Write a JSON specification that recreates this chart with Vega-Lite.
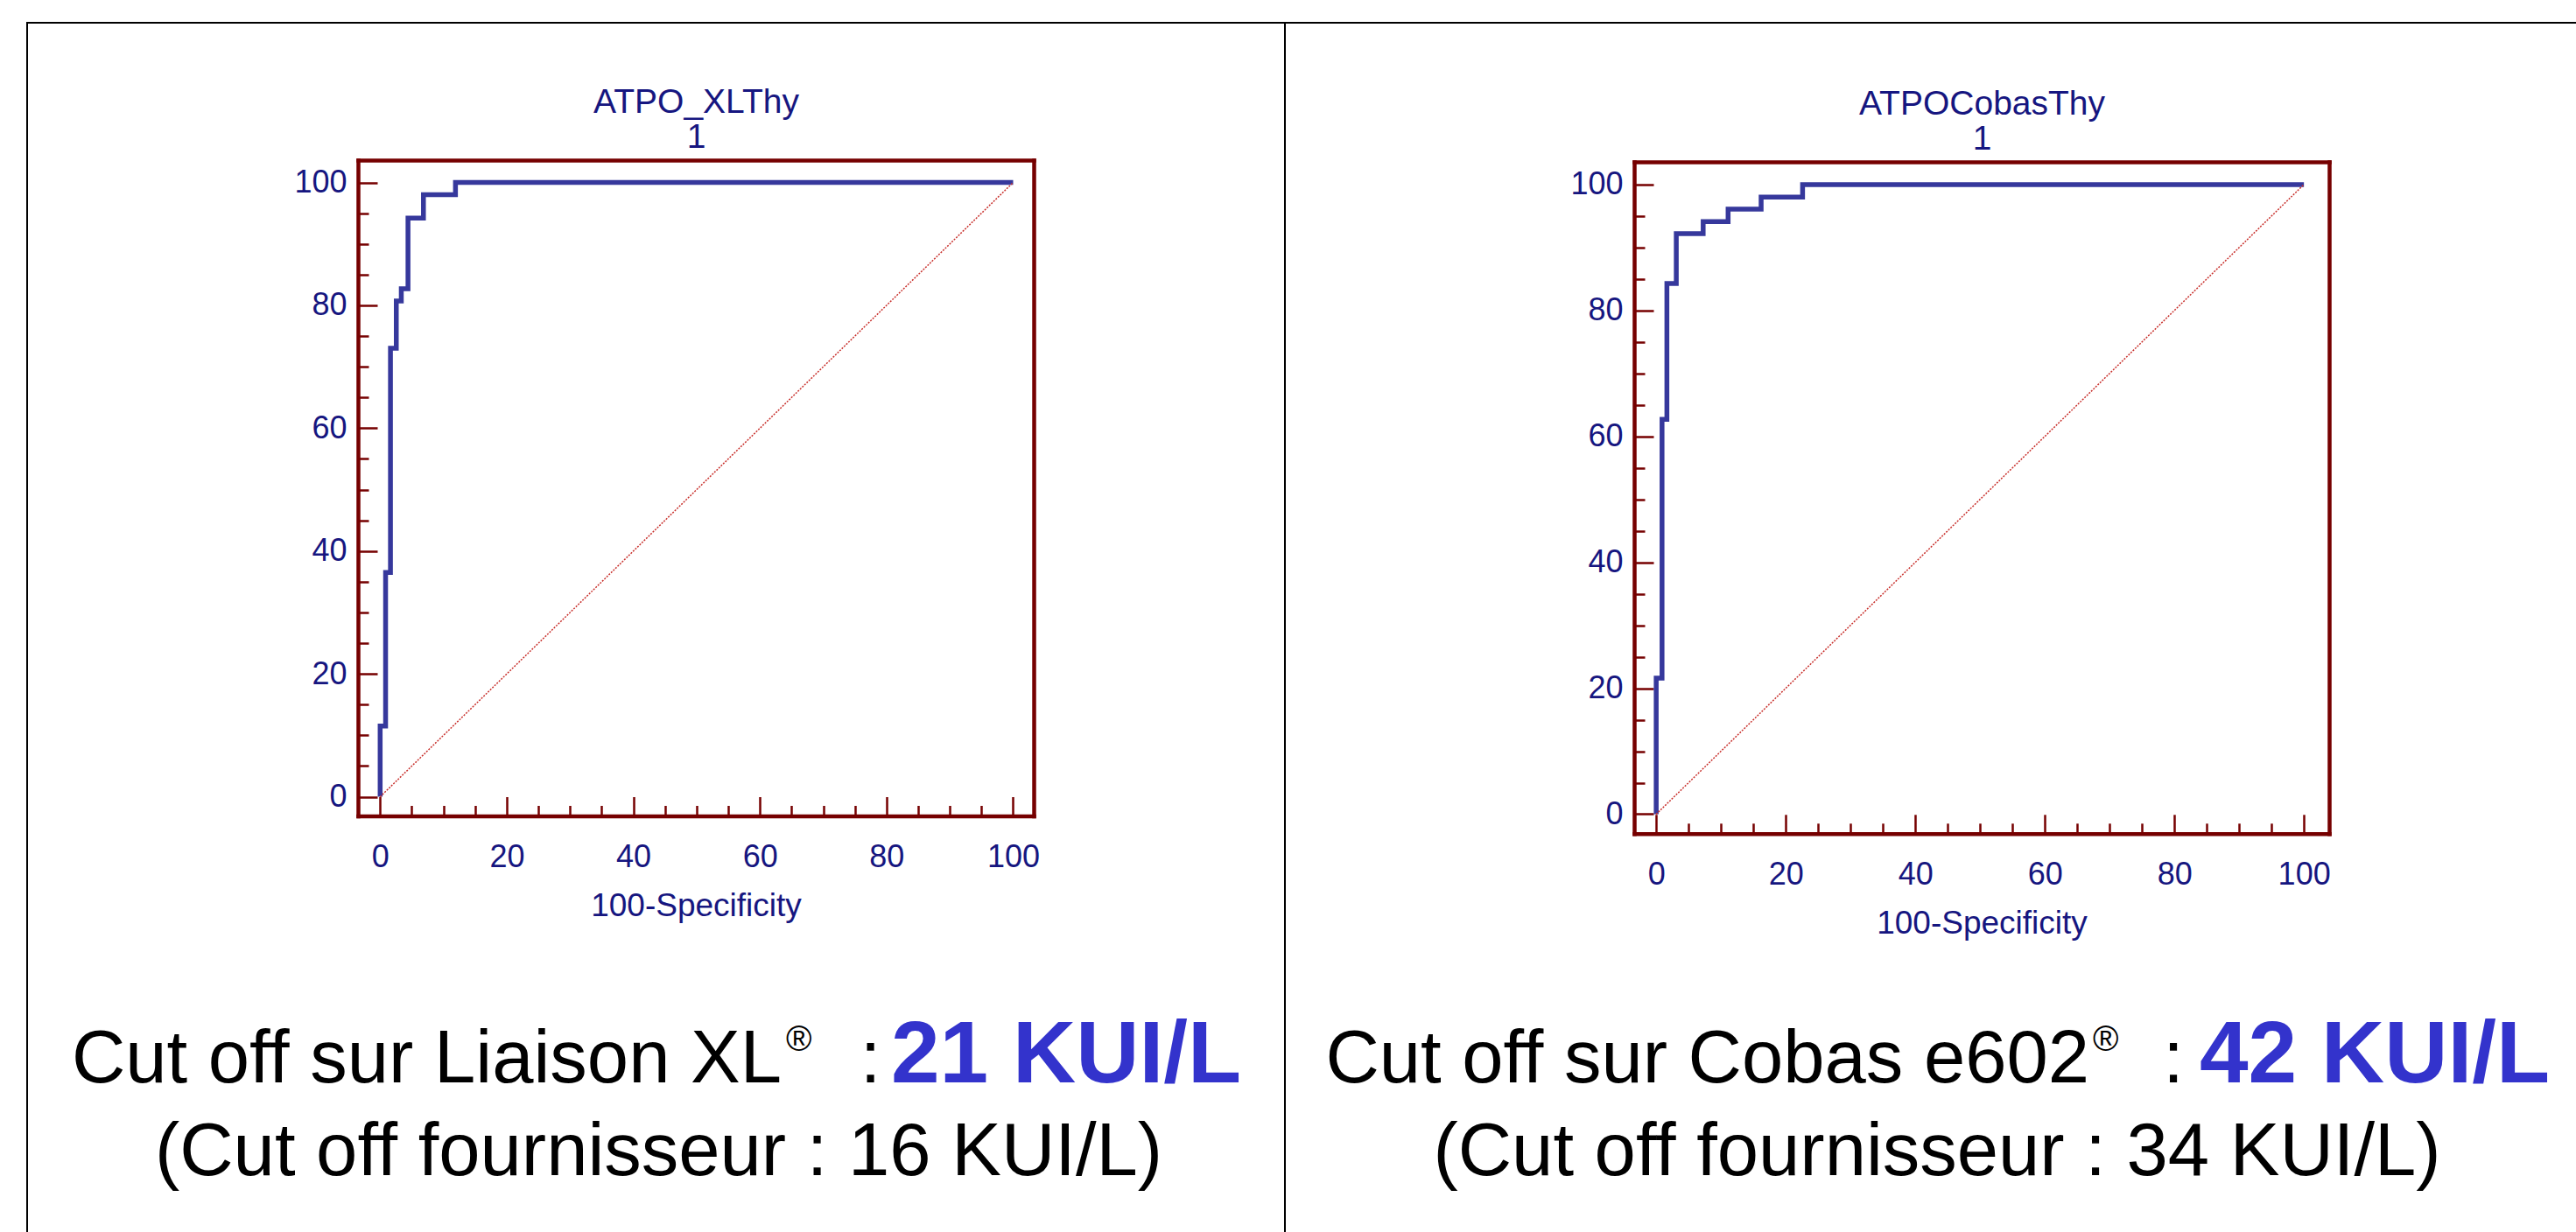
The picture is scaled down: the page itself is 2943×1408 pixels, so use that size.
{
  "$schema": "https://vega.github.io/schema/vega-lite/v6.json",
  "background": "white",
  "padding": {"left": 30, "top": 25, "right": 0, "bottom": 0},
  "bounds": "flush",
  "spacing": 0,
  "hconcat": [
    {
      "width": 1437,
      "height": 1400,
      "layer": [
        {
          "data": {"values": [
            {"fpr": 0, "sens": 0},
            {"fpr": 0, "sens": 11.5},
            {"fpr": 0.86, "sens": 36.5},
            {"fpr": 1.63, "sens": 73.0},
            {"fpr": 2.55, "sens": 80.7},
            {"fpr": 3.34, "sens": 82.7},
            {"fpr": 4.4, "sens": 94.2},
            {"fpr": 6.84, "sens": 98.0},
            {"fpr": 11.9, "sens": 100},
            {"fpr": 100, "sens": 100}
          ]},
          "mark": {"type": "line", "interpolate": "step-after", "color": "#36389c", "strokeWidth": 5.5},
          "encoding": {
            "x": {"field": "fpr", "type": "quantitative",
              "scale": {"domain": [-3.5, 103.25], "range": [378, 1150], "nice": false, "zero": false},
              "axis": {"orient": "bottom", "offset": -493.5,
                "values": [0,5,10,15,20,25,30,35,40,45,50,55,60,65,70,75,80,85,90,95,100],
                "labelExpr": "datum.value % 20 === 0 ? datum.label : ''",
                "tickSize": {"condition": {"test": "datum.value % 20 === 0", "value": -22}, "value": -12},
                "labelPadding": 52, "title": "100-Specificity", "titlePadding": 10}},
            "y": {"field": "sens", "type": "quantitative",
              "scale": {"domain": [-3.12, 103.64], "range": [906.5, 157], "nice": false, "zero": false},
              "axis": {"orient": "left", "offset": -378,
                "values": [0,5,10,15,20,25,30,35,40,45,50,55,60,65,70,75,80,85,90,95,100],
                "labelExpr": "datum.value % 20 === 0 ? datum.label : ''",
                "tickSize": {"condition": {"test": "datum.value % 20 === 0", "value": -22}, "value": -12},
                "labelPadding": 35, "title": null}}
          }
        },
        {
          "data": {"values": [{"x": 0, "y": 0}, {"x": 100, "y": 100}]},
          "mark": {"type": "line", "color": "#c8302c", "strokeWidth": 1.5, "strokeDash": [2, 1.5]},
          "encoding": {
            "x": {"field": "x", "type": "quantitative",
              "scale": {"domain": [-3.5, 103.25], "range": [378, 1150], "nice": false, "zero": false},
              "axis": {"orient": "top", "offset": -157, "ticks": false, "labels": false,
                "title": ["ATPO_XLThy", "1"], "titlePadding": 7, "titleFontSize": 39, "titleLineHeight": 40}},
            "y": {"field": "y", "type": "quantitative",
              "scale": {"domain": [-3.12, 103.64], "range": [906.5, 157], "nice": false, "zero": false},
              "axis": {"orient": "right", "offset": -287, "ticks": false, "labels": false, "title": null}}
          }
        },
        {
          "data": {"values": [{"line": 1, "text": "Cut off sur Liaison XL"}]},
          "mark": {"type": "text", "align": "right", "baseline": "alphabetic", "dx": 143.5, "font": "Liberation Sans", "fontSize": 85, "color": "#000000"},
          "encoding": {
            "y": {"field": "line", "type": "quantitative", "scale": {"domain": [1, 2], "range": [1211, 1317], "nice": false, "zero": false}, "axis": null},
            "text": {"field": "text"}
          }
        },
        {
          "data": {"values": [{"line": 1, "text": "®"}]},
          "mark": {"type": "text", "align": "left", "baseline": "alphabetic", "dx": 148.5, "dy": -36, "font": "Liberation Sans", "fontSize": 40, "color": "#000000"},
          "encoding": {
            "y": {"field": "line", "type": "quantitative", "scale": {"domain": [1, 2], "range": [1211, 1317], "nice": false, "zero": false}, "axis": null},
            "text": {"field": "text"}
          }
        },
        {
          "data": {"values": [{"line": 1, "text": ":"}]},
          "mark": {"type": "text", "align": "center", "baseline": "alphabetic", "dx": 245, "font": "Liberation Sans", "fontSize": 85, "color": "#000000"},
          "encoding": {
            "y": {"field": "line", "type": "quantitative", "scale": {"domain": [1, 2], "range": [1211, 1317], "nice": false, "zero": false}, "axis": null},
            "text": {"field": "text"}
          }
        },
        {
          "data": {"values": [{"line": 1, "text": "21 KUI/L"}]},
          "mark": {"type": "text", "align": "left", "baseline": "alphabetic", "dx": 268.5, "font": "Liberation Sans", "fontSize": 100, "fontWeight": "bold", "color": "#3333cc"},
          "encoding": {
            "y": {"field": "line", "type": "quantitative", "scale": {"domain": [1, 2], "range": [1211, 1317], "nice": false, "zero": false}, "axis": null},
            "text": {"field": "text"}
          }
        },
        {
          "data": {"values": [{"line": 2, "text": "(Cut off fournisseur : 16 KUI/L)"}]},
          "mark": {"type": "text", "align": "center", "baseline": "alphabetic", "dx": 3, "font": "Liberation Sans", "fontSize": 85, "color": "#000000"},
          "encoding": {
            "y": {"field": "line", "type": "quantitative", "scale": {"domain": [1, 2], "range": [1211, 1317], "nice": false, "zero": false}, "axis": null},
            "text": {"field": "text"}
          }
        }
      ],
      "resolve": {"scale": {"y": "independent"}, "axis": {"x": "independent", "y": "independent"}}
    },
    {
      "width": 1496,
      "height": 1400,
      "layer": [
        {
          "data": {"values": [
            {"fpr": 0, "sens": 0},
            {"fpr": 0, "sens": 21.6},
            {"fpr": 0.9, "sens": 62.7},
            {"fpr": 1.65, "sens": 84.3},
            {"fpr": 3.1, "sens": 92.2},
            {"fpr": 7.25, "sens": 94.1},
            {"fpr": 11.1, "sens": 96.1},
            {"fpr": 16.2, "sens": 98.0},
            {"fpr": 22.6, "sens": 100},
            {"fpr": 100, "sens": 100}
          ]},
          "mark": {"type": "line", "interpolate": "step-after", "color": "#36389c", "strokeWidth": 5.5},
          "encoding": {
            "x": {"field": "fpr", "type": "quantitative",
              "scale": {"domain": [-3.4, 103.9], "range": [399, 1193], "nice": false, "zero": false},
              "axis": {"orient": "bottom", "offset": -473.2,
                "values": [0,5,10,15,20,25,30,35,40,45,50,55,60,65,70,75,80,85,90,95,100],
                "labelExpr": "datum.value % 20 === 0 ? datum.label : ''",
                "tickSize": {"condition": {"test": "datum.value % 20 === 0", "value": -22}, "value": -12},
                "labelPadding": 52, "title": "100-Specificity", "titlePadding": 10}},
            "y": {"field": "sens", "type": "quantitative",
              "scale": {"domain": [-3.1, 103.6], "range": [926.8, 159], "nice": false, "zero": false},
              "axis": {"orient": "left", "offset": -399,
                "values": [0,5,10,15,20,25,30,35,40,45,50,55,60,65,70,75,80,85,90,95,100],
                "labelExpr": "datum.value % 20 === 0 ? datum.label : ''",
                "tickSize": {"condition": {"test": "datum.value % 20 === 0", "value": -22}, "value": -12},
                "labelPadding": 35, "title": null}}
          }
        },
        {
          "data": {"values": [{"x": 0, "y": 0}, {"x": 100, "y": 100}]},
          "mark": {"type": "line", "color": "#c8302c", "strokeWidth": 1.5, "strokeDash": [2, 1.5]},
          "encoding": {
            "x": {"field": "x", "type": "quantitative",
              "scale": {"domain": [-3.4, 103.9], "range": [399, 1193], "nice": false, "zero": false},
              "axis": {"orient": "top", "offset": -159, "ticks": false, "labels": false,
                "title": ["ATPOCobasThy", "1"], "titlePadding": 7, "titleFontSize": 39, "titleLineHeight": 40}},
            "y": {"field": "y", "type": "quantitative",
              "scale": {"domain": [-3.1, 103.6], "range": [926.8, 159], "nice": false, "zero": false},
              "axis": {"orient": "right", "offset": -303, "ticks": false, "labels": false, "title": null}}
          }
        },
        {
          "data": {"values": [{"line": 1, "text": "Cut off sur Cobas e602"}]},
          "mark": {"type": "text", "align": "right", "baseline": "alphabetic", "dx": 171, "font": "Liberation Sans", "fontSize": 85, "color": "#000000"},
          "encoding": {
            "y": {"field": "line", "type": "quantitative", "scale": {"domain": [1, 2], "range": [1211, 1317], "nice": false, "zero": false}, "axis": null},
            "text": {"field": "text"}
          }
        },
        {
          "data": {"values": [{"line": 1, "text": "®"}]},
          "mark": {"type": "text", "align": "left", "baseline": "alphabetic", "dx": 175, "dy": -36, "font": "Liberation Sans", "fontSize": 40, "color": "#000000"},
          "encoding": {
            "y": {"field": "line", "type": "quantitative", "scale": {"domain": [1, 2], "range": [1211, 1317], "nice": false, "zero": false}, "axis": null},
            "text": {"field": "text"}
          }
        },
        {
          "data": {"values": [{"line": 1, "text": ":"}]},
          "mark": {"type": "text", "align": "center", "baseline": "alphabetic", "dx": 267, "font": "Liberation Sans", "fontSize": 85, "color": "#000000"},
          "encoding": {
            "y": {"field": "line", "type": "quantitative", "scale": {"domain": [1, 2], "range": [1211, 1317], "nice": false, "zero": false}, "axis": null},
            "text": {"field": "text"}
          }
        },
        {
          "data": {"values": [{"line": 1, "text": "42 KUI/L"}]},
          "mark": {"type": "text", "align": "left", "baseline": "alphabetic", "dx": 297, "font": "Liberation Sans", "fontSize": 100, "fontWeight": "bold", "color": "#3333cc"},
          "encoding": {
            "y": {"field": "line", "type": "quantitative", "scale": {"domain": [1, 2], "range": [1211, 1317], "nice": false, "zero": false}, "axis": null},
            "text": {"field": "text"}
          }
        },
        {
          "data": {"values": [{"line": 2, "text": "(Cut off fournisseur : 34 KUI/L)"}]},
          "mark": {"type": "text", "align": "center", "baseline": "alphabetic", "dx": -3, "font": "Liberation Sans", "fontSize": 85, "color": "#000000"},
          "encoding": {
            "y": {"field": "line", "type": "quantitative", "scale": {"domain": [1, 2], "range": [1211, 1317], "nice": false, "zero": false}, "axis": null},
            "text": {"field": "text"}
          }
        }
      ],
      "resolve": {"scale": {"y": "independent"}, "axis": {"x": "independent", "y": "independent"}}
    }
  ],
  "config": {
    "view": {"stroke": "#000000", "strokeWidth": 2},
    "axis": {
      "grid": false,
      "domainColor": "#760000",
      "domainWidth": 4.5,
      "domainCap": "square",
      "tickColor": "#760000",
      "tickWidth": 2.5,
      "labelFont": "Liberation Sans",
      "labelFontSize": 36,
      "labelColor": "#161680",
      "labelOverlap": false,
      "labelFlush": false,
      "labelBound": false,
      "titleFont": "Liberation Sans",
      "titleFontSize": 37,
      "titleColor": "#161680",
      "titleFontWeight": "normal"
    }
  }
}
